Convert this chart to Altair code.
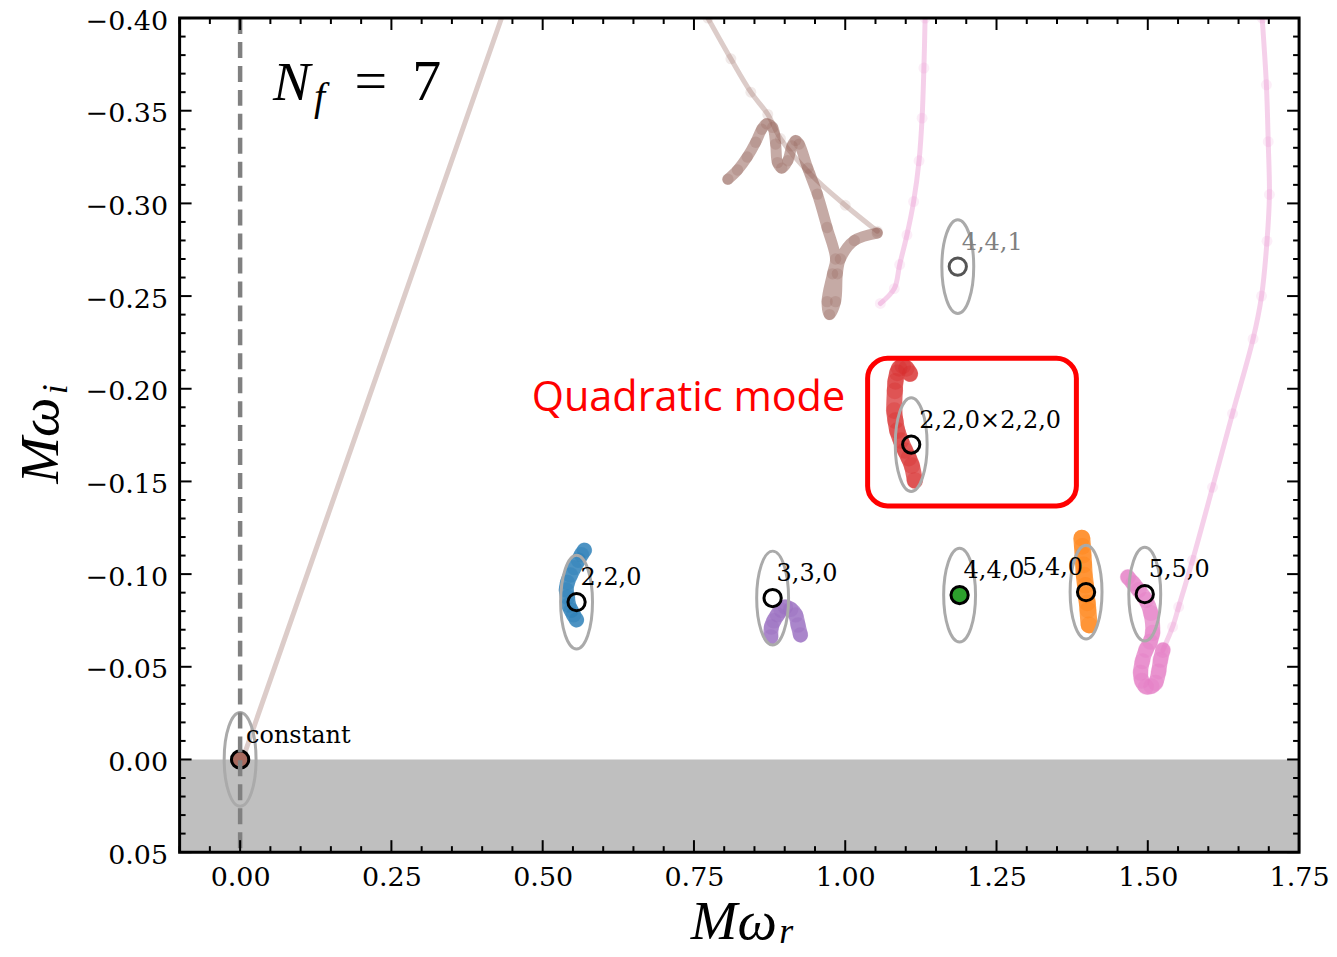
import altair as alt
import pandas as pd

# ------------------------------------------------------------------
# data
# ------------------------------------------------------------------
MODE_LABELS = ["constant", "2,2,0", "3,3,0", "4,4,0", "5,4,0", "5,5,0", "4,4,1", "2,2,0×2,2,0"]
MODE_X = [0.000, 0.556, 0.880, 1.189, 1.398, 1.495, 1.186, 1.109]
MODE_Y = [0.000, -0.0849, -0.0871, -0.0887, -0.0903, -0.0892, -0.2659, -0.1699]

# brown ("constant") trajectory pieces
BROWN_LINE1_X = [0.004, 0.432]
BROWN_LINE1_Y = [0.000, -0.400]
BROWN_LINE2_X = [0.773, 0.811, 0.844, 0.872, 0.893, 0.942, 1.000, 1.053]
BROWN_LINE2_Y = [-0.400, -0.378, -0.360, -0.348, -0.335, -0.316, -0.299, -0.285]
BROWN_KNOT_X = [0.806, 0.822, 0.838, 0.852, 0.862, 0.870, 0.880, 0.885, 0.888, 0.895, 0.905, 0.912, 0.918,
                0.924, 0.938, 0.954, 0.970, 0.984, 0.979, 0.970, 0.974, 0.984, 0.987, 0.992, 1.015, 1.053]
BROWN_KNOT_Y = [-0.313, -0.318, -0.325, -0.333, -0.340, -0.343, -0.341, -0.332, -0.322, -0.319, -0.323,
                -0.331, -0.334, -0.332, -0.319, -0.305, -0.287, -0.270, -0.262, -0.247, -0.240, -0.247,
                -0.262, -0.270, -0.280, -0.284]

# 2,2,0 (blue)
BLUE_X = [0.569, 0.564, 0.559, 0.552, 0.546, 0.541, 0.539, 0.541, 0.543, 0.547, 0.551, 0.556]
BLUE_Y = [-0.1129, -0.1105, -0.1075, -0.1035, -0.0995, -0.0955, -0.0914, -0.0875, -0.0833, -0.0805, -0.0780, -0.0753]
# 3,3,0 (purple)
PURPLE_X = [0.926, 0.922, 0.918, 0.910, 0.901, 0.894, 0.888, 0.882, 0.878, 0.877]
PURPLE_Y = [-0.0672, -0.0725, -0.0780, -0.0810, -0.0823, -0.0805, -0.0780, -0.0748, -0.0715, -0.0661]
# 2,2,0 x 2,2,0 (red)
RED_X = [1.107, 1.101, 1.095, 1.089, 1.086, 1.083, 1.082, 1.081, 1.083, 1.086, 1.092, 1.099, 1.105, 1.110, 1.115]
RED_Y = [-0.2081, -0.2110, -0.2124, -0.2110, -0.2086, -0.2040, -0.1989, -0.1882, -0.1828, -0.1774, -0.1720,
         -0.1667, -0.1626, -0.1586, -0.1505]
# 5,4,0 (orange)
ORANGE_X = [1.391, 1.392, 1.393, 1.394, 1.395, 1.397, 1.398, 1.400, 1.401, 1.403]
ORANGE_Y = [-0.1194, -0.1150, -0.1102, -0.1050, -0.0995, -0.0940, -0.0887, -0.0845, -0.0806, -0.0726]
# 5,5,0 (pink) blob
PINK_BLOB_X = [1.467, 1.476, 1.485, 1.497, 1.505, 1.508, 1.504, 1.497, 1.491, 1.488, 1.490, 1.497, 1.506,
               1.513, 1.518, 1.521, 1.525]
PINK_BLOB_Y = [-0.0984, -0.0950, -0.0914, -0.0860, -0.0790, -0.0683, -0.0635, -0.0591, -0.0530, -0.0468,
               -0.0425, -0.0392, -0.0395, -0.0414, -0.0475, -0.0538, -0.0591]
# pink faint branches
PINK_RIGHT_X = [1.525, 1.541, 1.551, 1.574, 1.607, 1.640, 1.674, 1.688, 1.697, 1.701, 1.699, 1.696, 1.689]
PINK_RIGHT_Y = [-0.0591, -0.0715, -0.0823, -0.1075, -0.1468, -0.1866, -0.2269, -0.2500, -0.2796, -0.3048,
                -0.3333, -0.3640, -0.400]
PINK_LEFT_X = [1.132, 1.130, 1.127, 1.122, 1.113, 1.102, 1.090, 1.081, 1.058]
PINK_LEFT_Y = [-0.400, -0.373, -0.346, -0.323, -0.301, -0.283, -0.267, -0.254, -0.246]

# highlighted box around the quadratic mode (data coordinates)
BOX_X = [1.037, 1.382]
BOX_Y = [-0.2164, -0.1368]

# axis ticks
X_MAJOR = [0.00, 0.25, 0.50, 0.75, 1.00, 1.25, 1.50, 1.75]
Y_MAJOR = [-0.40, -0.35, -0.30, -0.25, -0.20, -0.15, -0.10, -0.05, 0.00, 0.05]
X_MINOR = [round(-0.10 + 0.05 * k, 2) for k in range(38)]
Y_MINOR = [round(-0.40 + 0.01 * k, 2) for k in range(46)]
X_MINOR = [v for v in X_MINOR if all(abs(v - m) > 1e-9 for m in X_MAJOR)]
Y_MINOR = [v for v in Y_MINOR if all(abs(v - m) > 1e-9 for m in Y_MAJOR)]

# ------------------------------------------------------------------
# layout / styling
# ------------------------------------------------------------------
W, H = 1122, 836
SERIF = "DejaVu Serif"
MATH = "Liberation Serif, Times New Roman, DejaVu Serif, serif"

XS = alt.Scale(domain=[-0.10, 1.75], nice=False, zero=False)
YS = alt.Scale(domain=[-0.40, 0.05], reverse=True, nice=False, zero=False)

XAXIS = alt.Axis(values=X_MAJOR, format=".2f", labelFont=SERIF, labelFontSize=27, labelColor="black",
                 ticks=False, domain=False, grid=False, labelPadding=12, labelFlush=False,
                 title="Mω", titleFont=MATH, titleFontStyle="italic", titleFontWeight="normal",
                 titleFontSize=56, titleColor="black", titleX=555, titleY=87,
                 titleAlign="center", titleBaseline="alphabetic")
YAXIS = alt.Axis(values=Y_MAJOR, format=".2f", labelFont=SERIF, labelFontSize=27, labelColor="black",
                 ticks=False, domain=False, grid=False, labelPadding=12, labelFlush=False, labelOffset=3,
                 title="Mω", titleFont=MATH, titleFontStyle="italic", titleFontWeight="normal",
                 titleFontSize=56, titleColor="black", titleX=-122, titleY=423, titleAngle=270,
                 titleAlign="center", titleBaseline="alphabetic")


def X(field="x"):
    return alt.X(f"{field}:Q", scale=XS, axis=XAXIS)


def Y(field="y"):
    return alt.Y(f"{field}:Q", scale=YS, axis=YAXIS)


def path_layers(xs, ys, color, width, opacity, dot_size=0, dot_opacity=0.0, curve="linear"):
    df = pd.DataFrame({"x": xs, "y": ys, "i": list(range(len(xs)))})
    base = alt.Chart(df)
    out = [base.mark_line(color=color, strokeWidth=width, opacity=opacity, strokeCap="round",
                          strokeJoin="round", interpolate=curve, clip=True)
           .encode(x=X(), y=Y(), order="i:Q")]
    if dot_size:
        out.append(base.mark_circle(color=color, size=dot_size, opacity=dot_opacity, clip=True)
                   .encode(x=X(), y=Y()))
    return out


layers = []

# shaded unstable region (Im > 0)
region = pd.DataFrame({"x": [-0.10], "x2": [1.75], "y": [0.0], "y2": [0.05]})
layers.append(alt.Chart(region).mark_rect(color="#bfbfbf", clip=True)
              .encode(x=X(), x2="x2:Q", y=Y(), y2="y2:Q"))

BROWN = "#8c564b"
PINK = "#e377c2"
CR = "catmull-rom"
layers += path_layers(BROWN_LINE1_X, BROWN_LINE1_Y, BROWN, 5, 0.3)
layers += path_layers(BROWN_LINE2_X, BROWN_LINE2_Y, BROWN, 5, 0.3, 120, 0.12, CR)
layers += path_layers(PINK_LEFT_X, PINK_LEFT_Y, PINK, 5, 0.35, 120, 0.12, CR)
layers += path_layers(PINK_RIGHT_X, PINK_RIGHT_Y, PINK, 5, 0.35, 120, 0.12, CR)
layers += path_layers(BROWN_KNOT_X, BROWN_KNOT_Y, BROWN, 11, 0.5, 130, 0.2, CR)
layers += path_layers(BLUE_X, BLUE_Y, "#1f77b4", 15, 0.7, 240, 0.3, CR)
layers += path_layers(PURPLE_X, PURPLE_Y, "#9467bd", 15, 0.7, 240, 0.3, CR)
layers += path_layers(RED_X, RED_Y, "#d62728", 16, 0.7, 280, 0.3, CR)
layers += path_layers(ORANGE_X, ORANGE_Y, "#ff7f0e", 17, 0.75, 280, 0.3, CR)
layers += path_layers(PINK_BLOB_X, PINK_BLOB_Y, PINK, 15, 0.7, 260, 0.3, CR)

modes = pd.DataFrame({"label": MODE_LABELS, "x": MODE_X, "y": MODE_Y})

# uncertainty ellipses (custom symbol, unit path scaled by the mark size)
ELLIPSE = ("M0,-1C0.188,-1 0.34,-0.552 0.34,0C0.34,0.552 0.188,1 0,1"
           "C-0.188,1 -0.34,0.552 -0.34,0C-0.34,-0.552 -0.188,-1 0,-1Z")
layers.append(alt.Chart(modes).mark_point(shape=ELLIPSE, size=8836, filled=False, stroke="#aaaaaa",
                                          strokeWidth=3, opacity=1)
              .encode(x=X(), y=Y()))

# mode markers
FILL_RANGE = ["#a86a5e", "transparent", "transparent", "#2ca02c", "transparent", "transparent",
              "transparent", "transparent"]
STROKE_RANGE = ["#000000"] * 6 + ["#555555", "#000000"]
layers.append(alt.Chart(modes).mark_point(shape="circle", size=300, filled=True, strokeWidth=3, opacity=1)
              .encode(x=X(), y=Y(),
                      fill=alt.Fill("label:N", scale=alt.Scale(domain=MODE_LABELS, range=FILL_RANGE), legend=None),
                      stroke=alt.Stroke("label:N", scale=alt.Scale(domain=MODE_LABELS, range=STROKE_RANGE), legend=None)))

# zero-frequency dashed line
zero = pd.DataFrame({"x": [0.0]})
layers.append(alt.Chart(zero).mark_rule(color="#808080", strokeWidth=4.5, strokeDash=[16, 8])
              .encode(x=X(), y=alt.value(0), y2=alt.value(H)))

# mode labels
LABEL_STYLE = {
    "constant": (6, "left", "black"),
    "2,2,0": (4, "left", "black"),
    "3,3,0": (4, "left", "black"),
    "4,4,0": (4, "left", "black"),
    "5,4,0": (-3, "right", "black"),
    "5,5,0": (4, "left", "black"),
    "4,4,1": (4, "left", "#808080"),
    "2,2,0×2,2,0": (8, "left", "black"),
}
for lab, (dx, align, col) in LABEL_STYLE.items():
    layers.append(alt.Chart(modes).transform_filter(alt.datum.label == lab)
                  .mark_text(font=SERIF, fontSize=24, align=align, baseline="alphabetic", dx=dx, dy=-17, color=col)
                  .encode(x=X(), y=Y(), text="label:N"))

# highlight box + annotation
box = pd.DataFrame({"x": [BOX_X[0]], "x2": [BOX_X[1]], "y": [BOX_Y[0]], "y2": [BOX_Y[1]]})
layers.append(alt.Chart(box).mark_rect(filled=False, stroke="#ff0000", strokeWidth=5, cornerRadius=20)
              .encode(x=X(), x2="x2:Q", y=Y(), y2="y2:Q"))
quad = pd.DataFrame({"x": [0.482], "y": [-0.188], "t": ["Quadratic mode"]})
layers.append(alt.Chart(quad).mark_text(font="Open Sans", fontSize=41.5, color="#ff0000", align="left",
                                        baseline="alphabetic")
              .encode(x=X(), y=Y(), text="t:N"))

# N_f = 7
nf_main = pd.DataFrame({"x": [0.0543], "y": [-0.3559], "t": ["N"]})
nf_sub = pd.DataFrame({"x": [0.122], "y": [-0.3505], "t": ["f"]})
nf_eq = pd.DataFrame({"x": [0.189, 0.2845], "y": [-0.3559, -0.3559], "t": ["=", "7"]})
layers.append(alt.Chart(nf_main).mark_text(font=MATH, fontSize=56, fontStyle="italic", align="left",
                                           baseline="alphabetic", color="black")
              .encode(x=X(), y=Y(), text="t:N"))
layers.append(alt.Chart(nf_sub).mark_text(font=MATH, fontSize=40, fontStyle="italic", align="left",
                                          baseline="alphabetic", color="black")
              .encode(x=X(), y=Y(), text="t:N"))
layers.append(alt.Chart(nf_eq).mark_text(font=MATH, fontSize=58, align="left",
                                         baseline="alphabetic", color="black")
              .encode(x=X(), y=Y(), text="t:N"))

# axis-title subscripts
one = pd.DataFrame({"t": ["r"]})
layers.append(alt.Chart(one).mark_text(font=MATH, fontSize=36, fontStyle="italic", align="left",
                                       baseline="alphabetic", color="black")
              .encode(x=alt.value(601), y=alt.value(927), text="t:N"))
one_i = pd.DataFrame({"t": ["i"]})
layers.append(alt.Chart(one_i).mark_text(font=MATH, fontSize=36, fontStyle="italic", align="left",
                                         baseline="alphabetic", angle=270, color="black")
              .encode(x=alt.value(-113), y=alt.value(377), text="t:N"))

# inward ticks on all four sides
for vals, ln in ((X_MAJOR, 12), (X_MINOR, 6)):
    d = pd.DataFrame({"x": vals})
    layers.append(alt.Chart(d).mark_rule(color="black", strokeWidth=2)
                  .encode(x=X(), y=alt.value(H), y2=alt.value(H - ln)))
    layers.append(alt.Chart(d).mark_rule(color="black", strokeWidth=2)
                  .encode(x=X(), y=alt.value(0), y2=alt.value(ln)))
for vals, ln in ((Y_MAJOR, 12), (Y_MINOR, 6)):
    d = pd.DataFrame({"y": vals})
    layers.append(alt.Chart(d).mark_rule(color="black", strokeWidth=2)
                  .encode(y=Y(), x=alt.value(0), x2=alt.value(ln)))
    layers.append(alt.Chart(d).mark_rule(color="black", strokeWidth=2)
                  .encode(y=Y(), x=alt.value(W), x2=alt.value(W - ln)))

# frame
frame = pd.DataFrame({"a": [0]})
layers.append(alt.Chart(frame).mark_rect(filled=False, stroke="black", strokeWidth=3)
              .encode(x=alt.value(0), x2=alt.value(W), y=alt.value(0), y2=alt.value(H)))

chart = (alt.layer(*layers)
         .properties(width=W, height=H, autosize=alt.AutoSizeParams(type="none"),
                     padding={"left": 172, "top": 9, "right": 30, "bottom": 90},
                     background="white")
         .configure_view(stroke=None))

chart.save("out.html", embed_options={"renderer": "svg", "actions": False})
